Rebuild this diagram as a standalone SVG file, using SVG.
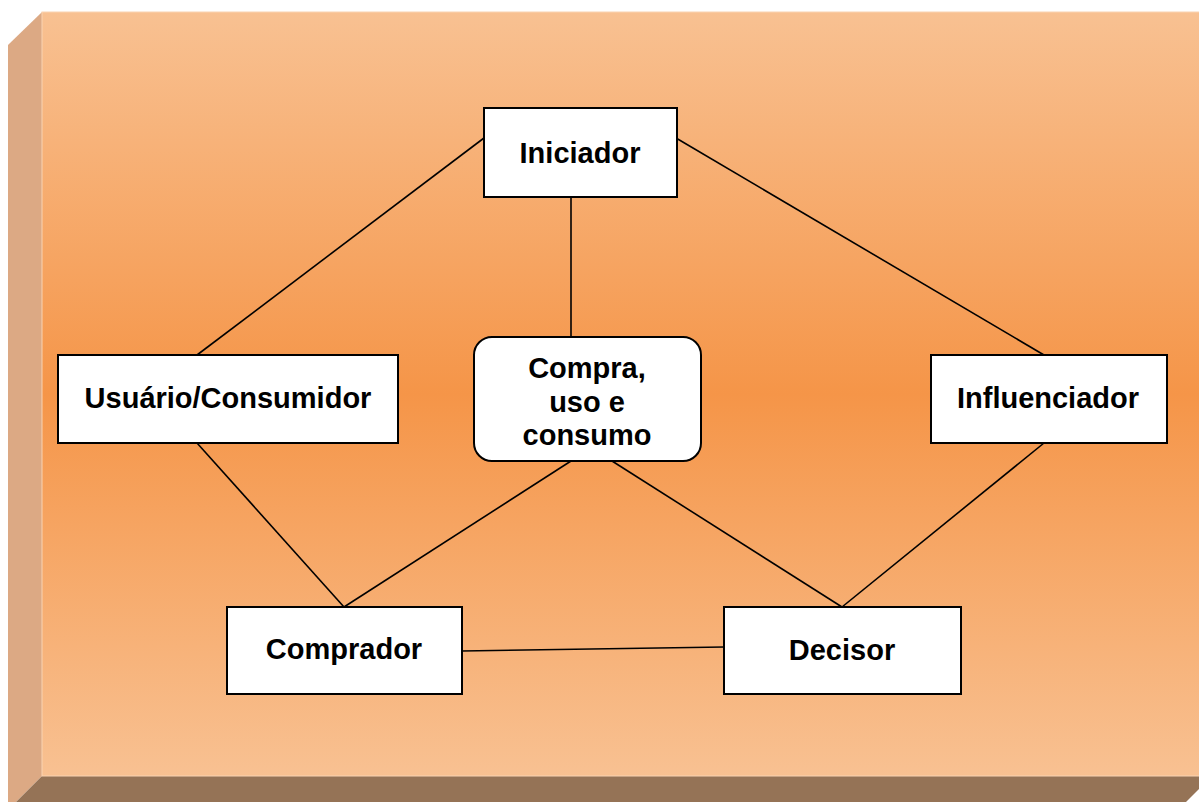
<svg xmlns="http://www.w3.org/2000/svg" width="1199" height="802" viewBox="0 0 1199 802">
<defs>
<linearGradient id="face" x1="0" y1="0" x2="0" y2="1">
<stop offset="0" stop-color="#F8C192"/>
<stop offset="0.5" stop-color="#F59548"/>
<stop offset="1" stop-color="#F8C192"/>
</linearGradient>
<style>
.box{fill:#fff;stroke:#000;stroke-width:2}
.lbl{font-family:"Liberation Sans",Arial,sans-serif;font-weight:bold;font-size:29px;fill:#000;text-anchor:middle}
.con line{stroke:#000;stroke-width:1.6}
</style>
</defs>
<rect width="1199" height="802" fill="#fff"/>
<g id="background">
<polygon points="8,45 42,12 42,776 8,810" fill="#DCA984"/>
<polygon points="42,776 1212,776 1178,810 8,810" fill="#957356"/>
<rect x="42" y="12" width="1170" height="764" fill="url(#face)" stroke="#FAD3B2" stroke-width="1"/>
</g>
<g id="connectors" class="con">
<line x1="484" y1="138" x2="197" y2="355"/>
<line x1="676" y1="138" x2="1044" y2="355"/>
<line x1="571" y1="197" x2="571" y2="337"/>
<line x1="197" y1="443" x2="344" y2="607"/>
<line x1="571" y1="461" x2="344" y2="607"/>
<line x1="612" y1="461" x2="842" y2="607"/>
<line x1="1044" y1="443" x2="842" y2="607"/>
<line x1="462" y1="651" x2="724" y2="647"/>
</g>
<g id="iniciador">
<rect class="box" x="484" y="108" width="193" height="89"/>
<text class="lbl" x="580" y="163">Iniciador</text>
</g>
<g id="usuario">
<rect class="box" x="58" y="355" width="340" height="88"/>
<text class="lbl" x="228" y="408">Usuário/Consumidor</text>
</g>
<g id="compra">
<rect class="box" x="474" y="337" width="227" height="124" rx="18" ry="18"/>
<text class="lbl" x="587" y="378">Compra,</text>
<text class="lbl" x="587" y="412">uso e</text>
<text class="lbl" x="587" y="445">consumo</text>
</g>
<g id="influenciador">
<rect class="box" x="931" y="355" width="236" height="88"/>
<text class="lbl" x="1048" y="408">Influenciador</text>
</g>
<g id="comprador">
<rect class="box" x="227" y="607" width="235" height="87"/>
<text class="lbl" x="344" y="659">Comprador</text>
</g>
<g id="decisor">
<rect class="box" x="724" y="607" width="237" height="87"/>
<text class="lbl" x="842" y="660">Decisor</text>
</g>
</svg>
